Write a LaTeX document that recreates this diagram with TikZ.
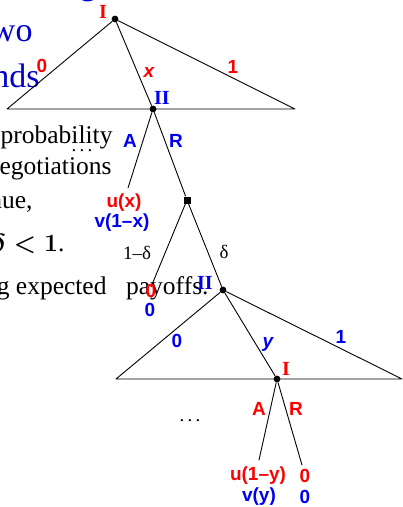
\documentclass[tikz,border=0pt]{standalone}
\usepackage{fontspec}
\setmainfont{Liberation Serif}
\setsansfont{Liberation Sans}
\definecolor{pred}{RGB}{255,0,0}
\definecolor{pblue}{RGB}{0,0,240}
\definecolor{tblue}{RGB}{0,0,205}

\begin{document}
\begin{tikzpicture}[x=1pt, y=-1pt, line width=0.9pt, line cap=round, line join=round,
  dec/.style={circle, fill, inner sep=0pt, minimum size=6.8pt},
  chance/.style={rectangle, fill, inner sep=0pt, minimum size=7pt},
  move/.style={inner sep=0pt, font=\fontsize{19}{22}\sffamily\bfseries},
  who/.style={inner sep=0pt, font=\fontsize{20}{23}\bfseries},
  nat/.style={inner sep=0pt, font=\fontsize{19}{22}\selectfont},
  slide/.style={anchor=base east, inner sep=0pt, font=\fontsize{25.5}{30}\selectfont},
  slidetitle/.style={anchor=base east, inner sep=0pt, text=tblue, font=\fontsize{34}{40}\selectfont}]

  % ── 页面范围（先定，溢出部分裁掉）──
  \path[use as bounding box] (0,0) rectangle (403,507);

  % ── 背景：被裁掉的幻灯片文字（在树的下面）──
  \node[slidetitle] (t0) at (97,-6) {g};
  \node[slidetitle] (t1) at (33,41) {wo};
  \node[slidetitle] (t2) at (40,87) {nds};
  \node[slide] (s1) at (113,143) {probability};
  \node[slide] (s2) at (112,174) {negotiations};
  \node[slide] (s3) at (33,208) {nue,};
  \node[slide] (s4) at (65,251) {{\boldmath$\delta<1$}.};
  \node[slide] (s5) at (107,294) {g expected};
  \node[slide] (s6) at (209,294) {payoffs.};

  % ── 第一轮：I 出价 x ──
  \node[dec] (I1) at (115,19) {};
  \coordinate (L1) at (7,109);
  \coordinate (R1) at (295,109);
  \node[dec] (II1) at (153,109) {};
  \draw (L1) -- (I1) -- (R1) -- (L1);
  \draw (I1) -- (II1);

  % ── II 接受 / 拒绝 ──
  \coordinate (a1) at (128,188);
  \node[chance] (N) at (187,200) {};
  \draw (II1) -- (a1);
  \draw (II1) -- (N);

  % ── 自然：以 δ 继续 ──
  \coordinate (n0) at (151,287);
  \node[dec] (II2) at (223,290) {};
  \draw (N) -- (n0);
  \draw (N) -- (II2);

  % ── 第二轮：II 出价 y ──
  \coordinate (L2) at (116,379);
  \coordinate (R2) at (402,379);
  \node[dec] (I2) at (277,379) {};
  \draw (L2) -- (II2) -- (R2) -- (L2);
  \draw (II2) -- (I2);

  % ── I 接受 / 拒绝 ──
  \coordinate (a2) at (259,460);
  \coordinate (r2) at (302,465);
  \draw (I2) -- (a2);
  \draw (I2) -- (r2);

  % ── 标签 ──
  \node[who, text=pred] (lI1) at (103,12) {I};
  \node[move, text=pred] (o0) at (42,66) {0};
  \node[move, text=pred] (ox) at (149,72) {\itshape x};
  \node[move, text=pred] (o1) at (233,67) {1};
  \node[who, text=pblue] (lII1) at (162,98) {II};
  \node[move, text=pblue] (mA1) at (130,141) {A};
  \node[move, text=pblue] (mR1) at (176,141) {R};
  \node[move, text=pred] (u1) at (124,203) {u(x)};
  \node[move, text=pblue] (v1) at (122,223) {v(1–x)};
  \node[nat] (p0) at (137,253) {1–δ};
  \node[nat] (p1) at (224,252) {δ};
  \node[move, text=pred] (u0) at (151,291) {0};
  \node[move, text=pblue] (v0) at (150,310) {0};
  \node[who, text=pblue] (lII2) at (205,283) {II};
  \node[move, text=pblue] (q0) at (177,341) {0};
  \node[move, text=pblue] (qy) at (268,344) {\itshape y};
  \node[move, text=pblue] (q1) at (341,337) {1};
  \node[who, text=pred] (lI2) at (286,369) {I};
  \node[move, text=pred] (mA2) at (259,409) {A};
  \node[move, text=pred] (mR2) at (296,409) {R};
  \node[move, text=pred] (u2) at (258,476) {u(1–y)};
  \node[move, text=pblue] (v2) at (259,497) {v(y)};
  \node[move, text=pred] (u3) at (305,476) {0};
  \node[move, text=pblue] (v3) at (305,497) {0};

  % ── 省略号 ──
  \node[nat] (e1) at (82,151) {.\,.\,.};
  \node[nat] (e2) at (190,421) {.\,.\,.};
\end{tikzpicture}
\end{document}
